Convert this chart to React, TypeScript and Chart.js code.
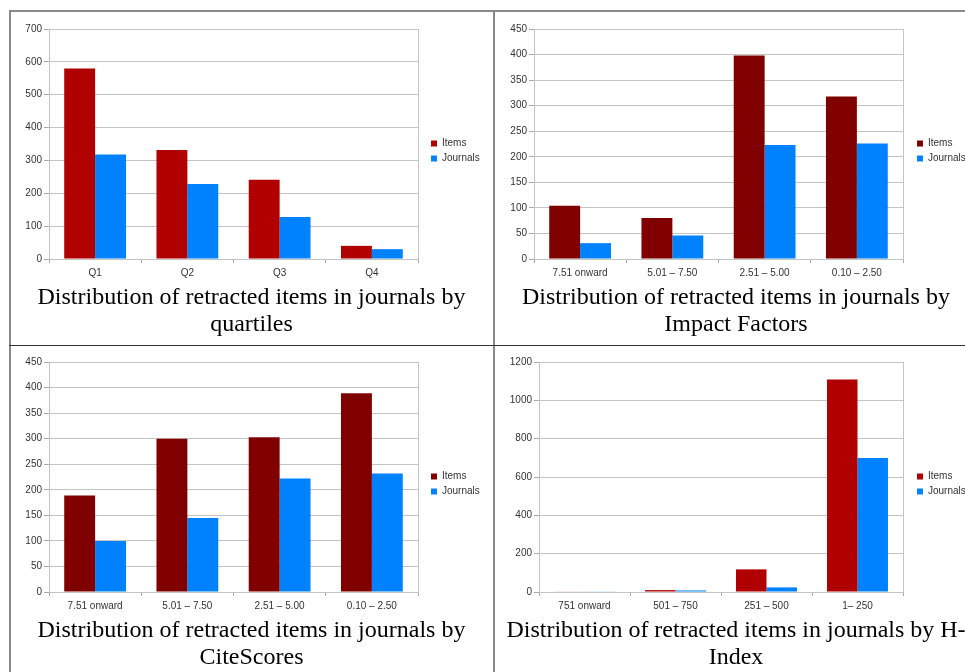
import React, { useEffect, useRef } from "react";
import { Chart, registerables } from "chart.js";

Chart.register(...registerables);
Chart.defaults.font.family = '"Liberation Sans", Arial, sans-serif';

// ---- data -------------------------------------------------------------
const SERIES_NAMES = ["Items", "Journals"];

const quartileLabels = ["Q1", "Q2", "Q3", "Q4"];
const quartileItems = [580, 332, 241, 40];
const quartileJournals = [318, 228, 128, 30];

const impactLabels = ["7.51 onward", "5.01 – 7.50", "2.51 – 5.00", "0.10 – 2.50"];
const impactItems = [104, 80, 398, 318];
const impactJournals = [31, 46, 223, 226];

const citeLabels = ["7.51 onward", "5.01 – 7.50", "2.51 – 5.00", "0.10 – 2.50"];
const citeItems = [189, 300, 303, 389];
const citeJournals = [100, 145, 222, 232];

const hIndexLabels = ["751 onward", "501 – 750", "251 – 500", "1– 250"];
const hIndexItems = [3, 10, 118, 1109];
const hIndexJournals = [2, 8, 24, 699];

// y-axis ranges: [max, step]
const quartileAxis = [700, 100];
const impactAxis = [450, 50];
const citeAxis = [450, 50];
const hIndexAxis = [1200, 200];

const quartileCaption = ["Distribution of retracted items in journals by", "quartiles"];
const impactCaption = ["Distribution of retracted items in journals by", "Impact Factors"];
const citeCaption = ["Distribution of retracted items in journals by", "CiteScores"];
const hIndexCaption = ["Distribution of retracted items in journals by H-", "Index"];

// ---- styling ----------------------------------------------------------
const RED = "#b00000";
const MAROON = "#800000";
const BLUE = "#0082ff";
const GRID = "#c4c4c4";
const TICK = "#a8a8a8";
const TEXT = "#333333";
const CANVAS_H = 275;
const LEGEND_W = 60;

type PanelProps = {
  labels: string[];
  items: number[];
  journals: number[];
  itemColor: string;
  axis: number[];
  left: number;
  top: number;
  plotLeft: number;
  plotRight: number;
  gap: number;
};

function BarPanel(p: PanelProps) {
  const ref = useRef<HTMLCanvasElement | null>(null);
  const padLeft = p.plotLeft - p.left - 30;
  const width = p.plotRight - p.left + p.gap + LEGEND_W;

  useEffect(() => {
    const chart = new Chart(ref.current as HTMLCanvasElement, {
      type: "bar",
      data: {
        labels: p.labels,
        datasets: [
          { label: SERIES_NAMES[0], data: p.items, backgroundColor: p.itemColor, borderWidth: 0 },
          { label: SERIES_NAMES[1], data: p.journals, backgroundColor: BLUE, borderWidth: 0 },
        ],
      },
      options: {
        responsive: false,
        animation: false,
        events: [],
        layout: { padding: { top: 17, bottom: 3, left: padLeft, right: 0 } },
        datasets: { bar: { categoryPercentage: 0.67, barPercentage: 1 } },
        plugins: {
          tooltip: { enabled: false },
          legend: {
            position: "right",
            fullSize: false,
            maxWidth: LEGEND_W,
            title: { display: true, text: "", padding: 0, font: { size: 10, lineHeight: 1.4 } },
            labels: {
              boxWidth: 6,
              boxHeight: 6,
              padding: 5,
              color: TEXT,
              font: { size: 10 },
            },
          },
        },
        scales: {
          x: {
            grid: {
              offset: true,
              drawOnChartArea: false,
              drawTicks: true,
              tickLength: 4,
              tickColor: TICK,
            },
            border: { color: GRID },
            ticks: {
              color: TEXT,
              font: { size: 10 },
              padding: 4,
              autoSkip: false,
              maxRotation: 0,
            },
            afterFit: (s: any) => {
              s.height = 25;
            },
          },
          y: {
            min: 0,
            max: p.axis[0],
            ticks: {
              stepSize: p.axis[1],
              color: TEXT,
              font: { size: 10 },
              padding: 2,
              callback: (v: any) => String(v),
            },
            grid: { color: GRID, tickLength: 5, tickColor: TICK },
            border: { color: GRID },
            afterFit: (s: any) => {
              s.width = 30;
            },
          },
          y2: {
            position: "right",
            display: true,
            ticks: { display: false },
            grid: { drawOnChartArea: false, drawTicks: false },
            border: { color: GRID },
            afterFit: (s: any) => {
              s.width = p.gap;
            },
          },
        },
      } as any,
    });
    return () => chart.destroy();
  }, []);

  return (
    <canvas
      ref={ref}
      width={width}
      height={CANVAS_H}
      style={{ position: "absolute", left: p.left, top: p.top, width, height: CANVAS_H }}
    />
  );
}

function Caption({ lines, center, top }: { lines: string[]; center: number; top: number }) {
  return (
    <div
      style={{
        position: "absolute",
        left: center - 260,
        top,
        width: 520,
        textAlign: "center",
        whiteSpace: "nowrap",
        fontFamily: '"Liberation Serif", "Times New Roman", serif',
        fontSize: 24,
        lineHeight: "27px",
        color: "#000",
      }}
    >
      {lines.map((l, i) => (
        <div key={i}>{l}</div>
      ))}
    </div>
  );
}

const line = (s: React.CSSProperties) => <div style={{ position: "absolute", ...s }} />;

export default function App() {
  return (
    <div
      style={{
        position: "absolute",
        left: 0,
        top: 0,
        width: 965,
        height: 672,
        overflow: "hidden",
        background: "#fff",
      }}
    >
      <BarPanel labels={quartileLabels} items={quartileItems} journals={quartileJournals} itemColor={RED}
        axis={quartileAxis} left={10} top={12} plotLeft={49} plotRight={418} gap={8} />
      <BarPanel labels={impactLabels} items={impactItems} journals={impactJournals} itemColor={MAROON}
        axis={impactAxis} left={496} top={12} plotLeft={534} plotRight={903} gap={9} />
      <BarPanel labels={citeLabels} items={citeItems} journals={citeJournals} itemColor={MAROON}
        axis={citeAxis} left={10} top={345} plotLeft={49} plotRight={418} gap={8} />
      <BarPanel labels={hIndexLabels} items={hIndexItems} journals={hIndexJournals} itemColor={RED}
        axis={hIndexAxis} left={496} top={345} plotLeft={539} plotRight={903} gap={9} />

      <Caption lines={quartileCaption} center={251.5} top={283} />
      <Caption lines={impactCaption} center={736} top={283} />
      <Caption lines={citeCaption} center={251.5} top={616} />
      <Caption lines={hIndexCaption} center={736} top={616} />

      {line({ left: 9, top: 10, width: 956, height: 2, background: "#8a8a8a" })}
      {line({ left: 9, top: 10, width: 2, height: 662, background: "#8a8a8a" })}
      {line({ left: 493, top: 10, width: 2, height: 662, background: "#8a8a8a" })}
      {line({ left: 9, top: 345, width: 956, height: 1, background: "#333" })}
    </div>
  );
}
